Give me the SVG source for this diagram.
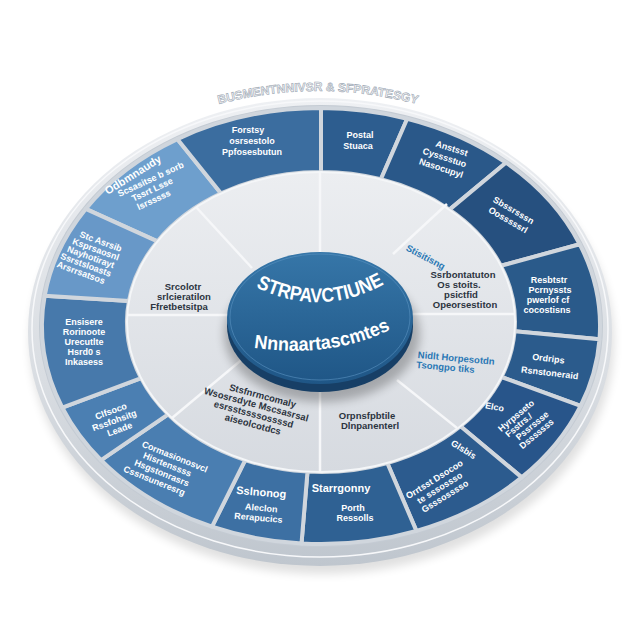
<svg xmlns="http://www.w3.org/2000/svg" width="640" height="640" viewBox="0 0 640 640">
<defs>
<linearGradient id="rimG" x1="0" y1="0" x2="0" y2="1"><stop offset="0" stop-color="#eef0f3"/><stop offset="0.6" stop-color="#d9dde2"/><stop offset="1" stop-color="#bfc6ce"/></linearGradient>
<linearGradient id="discG" x1="0" y1="0" x2="0" y2="1"><stop offset="0" stop-color="#eceef1"/><stop offset="1" stop-color="#d6dae0"/></linearGradient>
<linearGradient id="hubG" x1="0" y1="0" x2="0" y2="1"><stop offset="0" stop-color="#3676a8"/><stop offset="1" stop-color="#1f5686"/></linearGradient>
<filter id="blur" x="-20%" y="-20%" width="140%" height="140%"><feGaussianBlur stdDeviation="5"/></filter>
<path id="titleArc" d="M 212 106 Q 318 76 424 106"/>
<path id="hubArc1" d="M 250 284 Q 320 322 390 281"/>
<path id="hubArc2" d="M 250 347 Q 330 360 394 328"/>
</defs>
<style>
.seg{stroke:#d0d6dd;stroke-width:4;stroke-linejoin:round}
.t{font-family:"Liberation Sans",Arial,sans-serif;font-weight:bold;fill:#ffffff;font-size:9px;text-anchor:middle}
.tl{font-size:11px}
.in{font-family:"Liberation Sans",Arial,sans-serif;fill:#2c3440;font-size:9.5px;text-anchor:middle;font-weight:bold}
.ib{fill:#2a78b5}
.div{stroke:#f6f7f9;stroke-width:2.5}
</style>
<rect width="640" height="640" fill="#ffffff"/>
<g id="base">
<ellipse cx="322" cy="342" rx="292" ry="232" fill="#000" opacity="0.12" filter="url(#blur)"/>
<ellipse cx="320" cy="332" rx="292" ry="234" fill="url(#rimG)"/>
<ellipse cx="320" cy="329" rx="288" ry="228" fill="none" stroke="#f7f8fa" stroke-width="1.5"/>
<ellipse cx="321" cy="326" rx="282" ry="221" fill="#c4cbd3"/>
<text font-family="Liberation Sans, Arial, sans-serif" font-weight="bold" font-size="12" fill="#f1f3f5" stroke="#9ea8b4" stroke-width="0.6" text-anchor="middle"><textPath href="#titleArc" startOffset="50%">BUSMENTNNIVSR &amp; SFPRATESGY</textPath></text>
</g>
<g id="seg-odbm"><path class="seg" fill="#6e9fcd" d="M 85.7 208.9 A 279 218 0 0 1 177.3 139.1 L 221.1 193.4 A 194 150 0 0 0 157.4 241.4 Z"/>
<text class="t tl" transform="translate(135 178) rotate(-32)">Odbmnaudy</text>
<text class="t" transform="translate(152 182) rotate(-25)"><tspan x="0" y="0">Scsasitse b sorb</tspan><tspan x="-3" y="10">Tssrt Lsse</tspan><tspan x="-6" y="20">lsrsssss</tspan></text></g>
<g id="seg-forstsy"><path class="seg" fill="#3b6d9f" d="M 177.3 139.1 A 279 218 0 0 1 321 108 L 321 172 A 194 150 0 0 0 221.1 193.4 Z"/>
<text class="t" font-size="10"><tspan x="248" y="133">Forstsy</tspan><tspan x="252" y="144">osrsestolo</tspan><tspan x="252" y="155">Ppfosesbutun</tspan></text></g>
<g id="seg-postal"><path class="seg" fill="#2d5d8f" d="M 321 108 A 279 218 0 0 1 407.2 118.7 L 380.9 179.3 A 194 150 0 0 0 321 172 Z"/>
<text class="t" font-size="10"><tspan x="360" y="138">Postal</tspan><tspan x="358" y="149">Stuaca</tspan></text></g>
<g id="seg-anstsst"><path class="seg" fill="#2a5889" d="M 407.2 118.7 A 279 218 0 0 1 505.9 162.7 L 449.5 209.6 A 194 150 0 0 0 380.9 179.3 Z"/>
<text class="t" transform="translate(447 150) rotate(18)"><tspan x="4" y="0">Anstsst</tspan><tspan x="0" y="11">Cysssstuo</tspan><tspan x="0" y="22">Nasocupyl</tspan></text></g>
<g id="seg-sbss"><path class="seg" fill="#26507f" d="M 505.9 162.7 A 279 218 0 0 1 579.7 244.3 L 500.9 265.8 A 194 150 0 0 0 449.5 209.6 Z"/>
<text class="t" transform="translate(512 213) rotate(30)"><tspan x="0" y="0">Sbssrsssn</tspan><tspan x="0" y="11">Oosssssrl</tspan></text></g>
<g id="seg-resb"><path class="seg" fill="#2a5a8a" d="M 579.7 244.3 A 279 218 0 0 1 599.5 339.3 L 514.6 331.2 A 194 150 0 0 0 500.9 265.8 Z"/>
<text class="t"><tspan x="549" y="283">Resbtstr</tspan><tspan x="550" y="293">Pcrnyssts</tspan><tspan x="548" y="303">pwerlof cf</tspan><tspan x="547" y="313">cocostisns</tspan></text></g>
<g id="seg-ordr"><path class="seg" fill="#2b5b8c" d="M 599.5 339.3 A 279 218 0 0 1 580.6 405.9 L 501.5 377.0 A 194 150 0 0 0 514.6 331.2 Z"/>
<text class="t" transform="translate(551 362) rotate(7)"><tspan x="-3" y="0">Ordrips</tspan><tspan x="0" y="14">Rsnstoneraid</tspan></text></g>
<g id="seg-elco"><path class="seg" fill="#28558a" d="M 580.6 405.9 A 279 218 0 0 1 521.7 477.4 L 460.5 426.2 A 194 150 0 0 0 501.5 377.0 Z"/>
<text class="t" transform="translate(494 410) rotate(10)">Elco</text>
<text class="t" font-size="8" transform="translate(518 418) rotate(-40)"><tspan x="0" y="0">Hyrpsseto</tspan><tspan x="-4" y="9">Fsstrs./</tspan><tspan x="6" y="18">Pssrssse</tspan><tspan x="4" y="27">Dsssssss</tspan></text></g>
<g id="seg-orrt"><path class="seg" fill="#2c5b8e" d="M 521.7 477.4 A 279 218 0 0 1 416.4 530.9 L 387.3 463.0 A 194 150 0 0 0 460.5 426.2 Z"/>
<text class="t" transform="translate(462 452) rotate(32)">Glsbis</text>
<text class="t" transform="translate(436 482) rotate(-32)"><tspan x="0" y="0">Orrtsst Dsocoo</tspan><tspan x="0" y="10">te sssossso</tspan><tspan x="0" y="20">Gsssosssso</tspan></text></g>
<g id="seg-starr"><path class="seg" fill="#2f6193" d="M 416.4 530.9 A 279 218 0 0 1 301.5 543.5 L 307.5 471.6 A 194 150 0 0 0 387.3 463.0 Z"/>
<text class="t tl"><tspan x="341" y="492">Starrgonny</tspan></text>
<text class="t"><tspan x="353" y="511">Porth</tspan><tspan x="355" y="521">Ressolls</tspan></text></g>
<g id="seg-ssln"><path class="seg" fill="#3d70a3" d="M 301.5 543.5 A 279 218 0 0 1 212.0 526.7 L 245.2 460.1 A 194 150 0 0 0 307.5 471.6 Z"/>
<text class="t tl" transform="translate(261 496) rotate(5)">Sslnonog</text>
<text class="t" transform="translate(261 511) rotate(5)"><tspan x="0" y="0">Aleclon</tspan><tspan x="-2" y="10">Rerapucics</tspan></text></g>
<g id="seg-corm"><path class="seg" fill="#4a7eb1" d="M 212.0 526.7 A 279 218 0 0 1 101.1 460.2 L 168.1 414.4 A 194 150 0 0 0 245.2 460.1 Z"/>
<text class="t" transform="translate(170 458) rotate(22)"><tspan x="4" y="0">Cormasionosvcl</tspan><tspan x="0" y="10">Hisrtenssss</tspan><tspan x="-2" y="20">Hsgstonrasrs</tspan><tspan x="-6" y="30">Cssnsuneresrg</tspan></text></g>
<g id="seg-clfs"><path class="seg" fill="#4b7fb2" d="M 101.1 460.2 A 279 218 0 0 1 62.3 407.7 L 141.1 378.2 A 194 150 0 0 0 168.1 414.4 Z"/>
<text class="t" transform="translate(112 414) rotate(-20)"><tspan x="0" y="0">Clfsoco</tspan><tspan x="0" y="10">Rssfohsitg</tspan><tspan x="2" y="20">Leade</tspan></text></g>
<g id="seg-ensi"><path class="seg" fill="#4779ab" d="M 62.3 407.7 A 279 218 0 0 1 44.7 295.7 L 128.9 301.1 A 194 150 0 0 0 141.1 378.2 Z"/>
<text class="t"><tspan x="84" y="325">Ensisere</tspan><tspan x="84" y="335">Rorinoote</tspan><tspan x="84" y="345">Urecutlte</tspan><tspan x="84" y="355">Hsrd0 s</tspan><tspan x="84" y="365">Inkasess</tspan></text></g>
<g id="seg-sc"><path class="seg" fill="#6898c8" d="M 44.7 295.7 A 279 218 0 0 1 85.7 208.9 L 157.4 241.4 A 194 150 0 0 0 128.9 301.1 Z"/>
<text class="t" transform="translate(96 243) rotate(20)"><tspan x="4" y="0">Stc Asrsib</tspan><tspan x="2" y="9">Ksprsaosnl</tspan><tspan x="0" y="18">Nayhotirayt</tspan><tspan x="-2" y="27">Ssrstsloasts</tspan><tspan x="-4" y="36">Arsrrsatsos</tspan></text></g>
<g id="inner">
<ellipse cx="321" cy="322" rx="194" ry="150" fill="url(#discG)" stroke="#f4f6f8" stroke-width="2"/>
</g>
<g id="connectors">
<line class="div" x1="320" y1="172" x2="320" y2="254"/>
<line class="div" x1="196" y1="207" x2="252" y2="268"/>
<line class="div" x1="127" y1="315" x2="228" y2="315"/>
<line class="div" x1="172" y1="418" x2="245" y2="357"/>
<line class="div" x1="320" y1="388" x2="320" y2="472"/>
<line class="div" x1="397" y1="380" x2="457" y2="428"/>
<line class="div" x1="412" y1="314" x2="515" y2="314"/>
<line class="div" x1="447" y1="204" x2="393" y2="254"/>
</g>
<g id="sector-left"><text class="in"><tspan x="183" y="290">Srcolotr</tspan><tspan x="184" y="300">srlcieratilon</tspan><tspan x="179" y="310">Ffretbetsitpa</tspan></text></g>
<g id="sector-upright"><text class="in ib" transform="translate(424 260) rotate(28)">Stisitisng</text></g>
<g id="sector-right"><text class="in" font-size="8"><tspan x="463" y="278">Ssrbontatuton</tspan><tspan x="459" y="288">Os stoits.</tspan><tspan x="461" y="298">psictfid</tspan><tspan x="465" y="308">Opeorsestiton</tspan></text></g>
<g id="sector-lowright"><text class="in ib" transform="translate(452 361) rotate(5)"><tspan x="4" y="0">Nidlt Horpesotdn</tspan><tspan x="-6" y="10">Tsongpo tiks</tspan></text></g>
<g id="sector-lowleft"><text class="in" transform="translate(258 398) rotate(15)"><tspan x="4" y="0">Stsfnrmcomaly</tspan><tspan x="0" y="10">Wsosrsdyte Mscsasrsal</tspan><tspan x="0" y="20">esrsstssssossssd</tspan><tspan x="2" y="30">aiseolcotdcs</tspan></text></g>
<g id="sector-low"><text class="in"><tspan x="367" y="419">Orpnsfpbtile</tspan><tspan x="370" y="429">Dlnpanenterl</tspan></text></g>
<g id="hub">
<ellipse cx="322" cy="334" rx="98" ry="68" fill="#000" opacity="0.25" filter="url(#blur)"/>
<ellipse cx="320" cy="326" rx="93" ry="66" fill="#173f66"/>
<ellipse cx="320" cy="318" rx="93" ry="66" fill="url(#hubG)"/>
<ellipse cx="320" cy="317" rx="90" ry="63" fill="none" stroke="#5a93c2" stroke-width="1" opacity="0.6"/>
<text font-family="Liberation Sans, Arial, sans-serif" font-weight="bold" font-size="20" fill="#ffffff" text-anchor="middle"><textPath href="#hubArc1" startOffset="50%" textLength="134" lengthAdjust="spacingAndGlyphs">STRPAVCTIUNE</textPath></text>
<text font-family="Liberation Sans, Arial, sans-serif" font-weight="bold" font-size="19" fill="#ffffff" text-anchor="middle"><textPath href="#hubArc2" startOffset="50%" textLength="140" lengthAdjust="spacingAndGlyphs">Nnnaartascmtes</textPath></text>
</g>
</svg>
